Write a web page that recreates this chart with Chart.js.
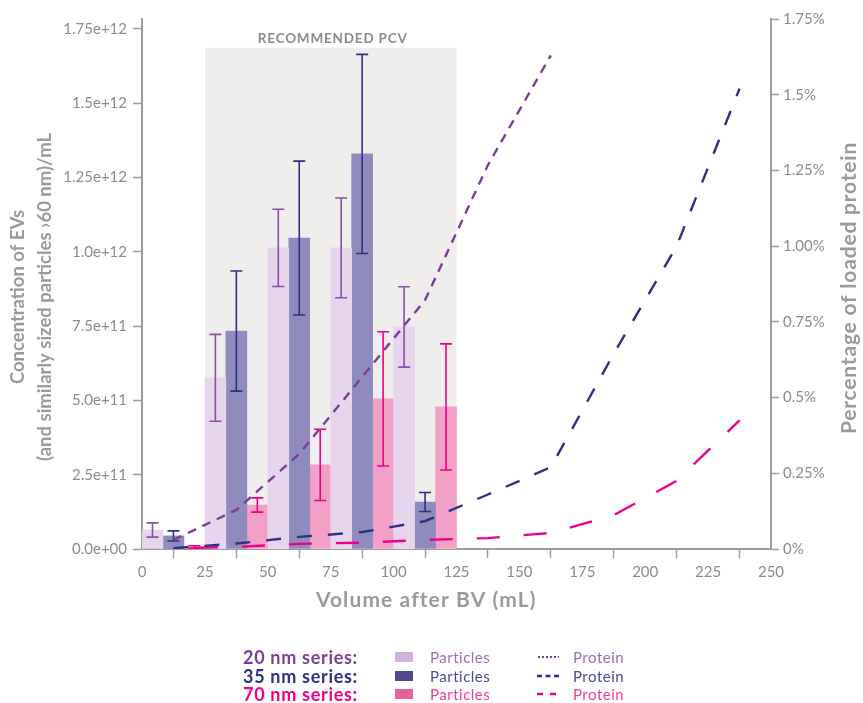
<!DOCTYPE html>
<html lang="en">
<head>
<meta charset="UTF-8">
<title>EV concentration and protein per fraction</title>
<script src="https://cdn.jsdelivr.net/npm/chart.js@4.4.1/dist/chart.umd.min.js"></script>
<style>
  body { margin: 0; background: #fff; font-family: Lato, sans-serif; }
  .wrap { position: relative; width: 863px; height: 703px; }
  .row { position: absolute; left: 243px; height: 18px; line-height: 18px; display: flex; align-items: center; white-space: nowrap; }
  .row .name { width: 152px; font-weight: bold; font-size: 18px; letter-spacing: 0.7px; }
  .row .swatch { width: 18px; height: 10px; margin-right: 17px; }
  .row .part { width: 107px; font-size: 15px; letter-spacing: 0.5px; }
  .row svg { width: 22px; height: 6px; margin-right: 14px; }
  .row .prot { font-size: 15px; letter-spacing: 0.5px; }
</style>
</head>
<body>
<div class="wrap">
  <canvas id="chart" width="863" height="703"></canvas>

  <!-- Legend -->
  <div class="row" style="top:648px">
    <span class="name" style="color:#7d3c98">20 nm series:</span>
    <span class="swatch" style="background:#d1b2df"></span>
    <span class="part" style="color:#9d6cb8">Particles</span>
    <svg><line x1="1" y1="3" x2="22" y2="3" stroke="#7d3c98" stroke-width="2.2" stroke-dasharray="2 2"/></svg>
    <span class="prot" style="color:#9d6cb8">Protein</span>
  </div>
  <div class="row" style="top:667px">
    <span class="name" style="color:#2e3087">35 nm series:</span>
    <span class="swatch" style="background:#524a91"></span>
    <span class="part" style="color:#4a4c97">Particles</span>
    <svg><line x1="0" y1="3" x2="22" y2="3" stroke="#2e3087" stroke-width="2.4" stroke-dasharray="5 3.5"/></svg>
    <span class="prot" style="color:#4a4c97">Protein</span>
  </div>
  <div class="row" style="top:685px">
    <span class="name" style="color:#ec008c">70 nm series:</span>
    <span class="swatch" style="background:#e5619b"></span>
    <span class="part" style="color:#ee3d97">Particles</span>
    <svg><line x1="0" y1="3" x2="20" y2="3" stroke="#ec008c" stroke-width="2.4" stroke-dasharray="6 7"/></svg>
    <span class="prot" style="color:#ee3d97">Protein</span>
  </div>
</div>

<script>
// Particle concentration per fraction (left axis), fractions of 25 mL
const fractionCenters = [12.5, 37.5, 62.5, 87.5, 112.5];
const particles20 = [0.064e12, 0.576e12, 1.013e12, 1.013e12, 0.747e12];
const particles20Err = [0.024e12, 0.146e12, 0.13e12, 0.168e12, 0.135e12];
const particles35 = [0.044e12, 0.733e12, 1.046e12, 1.329e12, 0.158e12];
const particles35Err = [0.017e12, 0.202e12, 0.259e12, 0.335e12, 0.032e12];
const particles70 = [0.007e12, 0.148e12, 0.283e12, 0.505e12, 0.478e12];
const particles70Err = [0.004e12, 0.024e12, 0.12e12, 0.226e12, 0.212e12];

// Protein as % of loaded protein (right axis)
const proteinVolumes = [12.5, 37.5, 62.5, 87.5, 112.5, 137.5, 162.5, 187.5, 212.5, 237.5];
const protein20 = [0.03, 0.129, 0.314, 0.568, 0.822, 1.268, 1.63];
const protein35 = [0.003, 0.018, 0.04, 0.056, 0.092, 0.18, 0.27, 0.645, 1.0, 1.52];
const protein70 = [0.002, 0.007, 0.017, 0.021, 0.03, 0.036, 0.053, 0.112, 0.225, 0.425];

// Axes
const leftAxisMax = 1.783e12;
const rightAxisMax = 1.75;
const leftTicks = [0, 0.25e12, 0.5e12, 0.75e12, 1.0e12, 1.25e12, 1.5e12, 1.75e12];
const leftTickLabels = ['0.0e+00', '2.5e+11', '5.0e+11', '7.5e+11', '1.0e+12', '1.25e+12', '1.5e+12', '1.75e+12'];
const rightTicks = [0, 0.25, 0.5, 0.75, 1.0, 1.25, 1.5, 1.75];
const rightTickLabels = ['0%', '0.25%', '0.5%', '0.75%', '1.00%', '1.25%', '1.5%', '1.75%'];

// Recommended PCV window
const pcvRange = [25, 125];
const pcvTop = 1.686e12;

const gray = '#a09c9b';
const tickGray = '#8f8b8a';
const titleGray = '#9d9998';

function toPoints(xs, ys) {
    return ys.map((y, i) => ({ x: xs[i], y: y }));
}

// Shaded PCV region with its label
const pcvRegion = {
    id: 'pcvRegion',
    beforeDatasetsDraw(chart) {
        const { ctx, scales } = chart;
        const left = scales.x.getPixelForValue(pcvRange[0]);
        const right = scales.x.getPixelForValue(pcvRange[1]);
        const top = scales.y.getPixelForValue(pcvTop);
        const bottom = scales.y.getPixelForValue(0);
        ctx.save();
        ctx.fillStyle = '#efeeed';
        ctx.fillRect(left, top, right - left, bottom - top);
        ctx.fillStyle = '#8e8a89';
        ctx.font = 'bold 13.5px Lato';
        ctx.letterSpacing = '0.8px';
        ctx.textAlign = 'center';
        ctx.textBaseline = 'alphabetic';
        ctx.fillText('RECOMMENDED PCV', (left + right) / 2 + 2, top - 5);
        ctx.restore();
    }
};

// Error bars drawn right after each bar dataset
const errorBars = {
    id: 'errorBars',
    afterDatasetDraw(chart, args) {
        const ds = chart.data.datasets[args.index];
        if (!ds.errors) return;
        const y = chart.scales.y;
        const ctx = chart.ctx;
        ctx.save();
        ctx.strokeStyle = ds.errorColor;
        ctx.lineWidth = 1.6;
        args.meta.data.forEach((bar, i) => {
            const v = ds.data[i].y;
            const e = ds.errors[i];
            const top = y.getPixelForValue(v + e);
            const bot = y.getPixelForValue(v - e);
            ctx.beginPath();
            ctx.moveTo(bar.x, top); ctx.lineTo(bar.x, bot);
            ctx.moveTo(bar.x - 6, top); ctx.lineTo(bar.x + 6, top);
            ctx.moveTo(bar.x - 6, bot); ctx.lineTo(bar.x + 6, bot);
            ctx.stroke();
        });
        ctx.restore();
    }
};

// Axis titles
function rotatedText(ctx, text, x, y, font, spacing) {
    ctx.save();
    ctx.fillStyle = titleGray;
    ctx.font = font;
    ctx.letterSpacing = spacing;
    ctx.textAlign = 'center';
    ctx.textBaseline = 'middle';
    ctx.translate(x, y);
    ctx.rotate(-Math.PI / 2);
    ctx.fillText(text, 0, 0);
    ctx.restore();
}

const axisTitles = {
    id: 'axisTitles',
    afterDraw(chart) {
        const { ctx, chartArea } = chart;
        ctx.save();
        ctx.fillStyle = titleGray;
        ctx.font = 'bold 21px Lato';
        ctx.letterSpacing = '1.1px';
        ctx.textAlign = 'center';
        ctx.textBaseline = 'middle';
        ctx.fillText('Volume after BV (mL)', chartArea.left + 0.452 * (chartArea.right - chartArea.left), 600);
        ctx.restore();

        rotatedText(ctx, 'Concentration of EVs', 18, 297, 'bold 18.5px Lato', '0px');
        rotatedText(ctx, '(and similarly sized particles \u203a60 nm)/mL', 45, 297, 'bold 18.5px Lato', '0px');
        rotatedText(ctx, 'Percentage of loaded protein', 849, 288, 'bold 21px Lato', '0.8px');
    }
};

const ctx = document.getElementById('chart').getContext('2d');
new Chart(ctx, {
    type: 'bar',
    data: {
        datasets: [
            {
                type: 'line', label: '20 nm protein', data: toPoints(proteinVolumes, protein20), yAxisID: 'y2',
                borderColor: '#7d3c98', borderWidth: 2.4, borderDash: [9, 7], pointRadius: 0, tension: 0, fill: false, order: 0
            },
            {
                type: 'line', label: '35 nm protein', data: toPoints(proteinVolumes, protein35), yAxisID: 'y2',
                borderColor: '#2e3087', borderWidth: 2.4, borderDash: [15, 16], pointRadius: 0, tension: 0, fill: false, order: 0
            },
            {
                type: 'line', label: '70 nm protein', data: toPoints(proteinVolumes, protein70), yAxisID: 'y2',
                borderColor: '#ec008c', borderWidth: 2.4, borderDash: [23, 24], borderDashOffset: 25.5,
                pointRadius: 0, tension: 0, fill: false, order: 0
            },
            {
                label: '20 nm particles', data: toPoints(fractionCenters, particles20), yAxisID: 'y',
                backgroundColor: '#e6d5ec', errors: particles20Err, errorColor: '#8a4fa5', order: 1
            },
            {
                label: '35 nm particles', data: toPoints(fractionCenters, particles35), yAxisID: 'y',
                backgroundColor: '#8f8bbd', errors: particles35Err, errorColor: '#2e3087', order: 1
            },
            {
                label: '70 nm particles', data: toPoints(fractionCenters, particles70), yAxisID: 'y',
                backgroundColor: '#f3a0c6', errors: particles70Err, errorColor: '#ec008c', order: 1
            }
        ]
    },
    options: {
        responsive: false,
        animation: false,
        devicePixelRatio: 1,
        layout: { padding: { top: 19, bottom: 114, left: 0, right: 0 } },
        datasets: { bar: { categoryPercentage: 1, barPercentage: 1, borderWidth: 0 } },
        plugins: { legend: { display: false }, tooltip: { enabled: false } },
        scales: {
            x: {
                type: 'linear', min: 0, max: 250, offset: false,
                ticks: { stepSize: 25, color: tickGray, font: { family: 'Lato', size: 15 }, padding: 5, maxRotation: 0 },
                grid: { drawOnChartArea: false, tickLength: 9, tickColor: gray, tickWidth: 1.5 },
                border: { color: gray, width: 2 },
                afterFit: s => { s.height = 40; }
            },
            y: {
                position: 'left', min: 0, max: leftAxisMax,
                afterBuildTicks: s => { s.ticks = leftTicks.map(v => ({ value: v })); },
                ticks: { callback: (v, i) => leftTickLabels[i], color: tickGray, font: { family: 'Lato', size: 15 }, padding: 6 },
                grid: { drawOnChartArea: false, tickLength: 9, tickColor: gray, tickWidth: 1.5 },
                border: { color: gray, width: 2 },
                afterFit: s => { s.width = 142; }
            },
            y2: {
                position: 'right', min: 0, max: rightAxisMax,
                afterBuildTicks: s => { s.ticks = rightTicks.map(v => ({ value: v })); },
                ticks: { callback: (v, i) => rightTickLabels[i], color: tickGray, font: { family: 'Lato', size: 15 }, padding: 4 },
                grid: { drawOnChartArea: false, tickLength: 8, tickColor: gray, tickWidth: 1.5 },
                border: { color: gray, width: 2 },
                afterFit: s => { s.width = 92; }
            }
        }
    },
    plugins: [pcvRegion, errorBars, axisTitles]
});
</script>
</body>
</html>
